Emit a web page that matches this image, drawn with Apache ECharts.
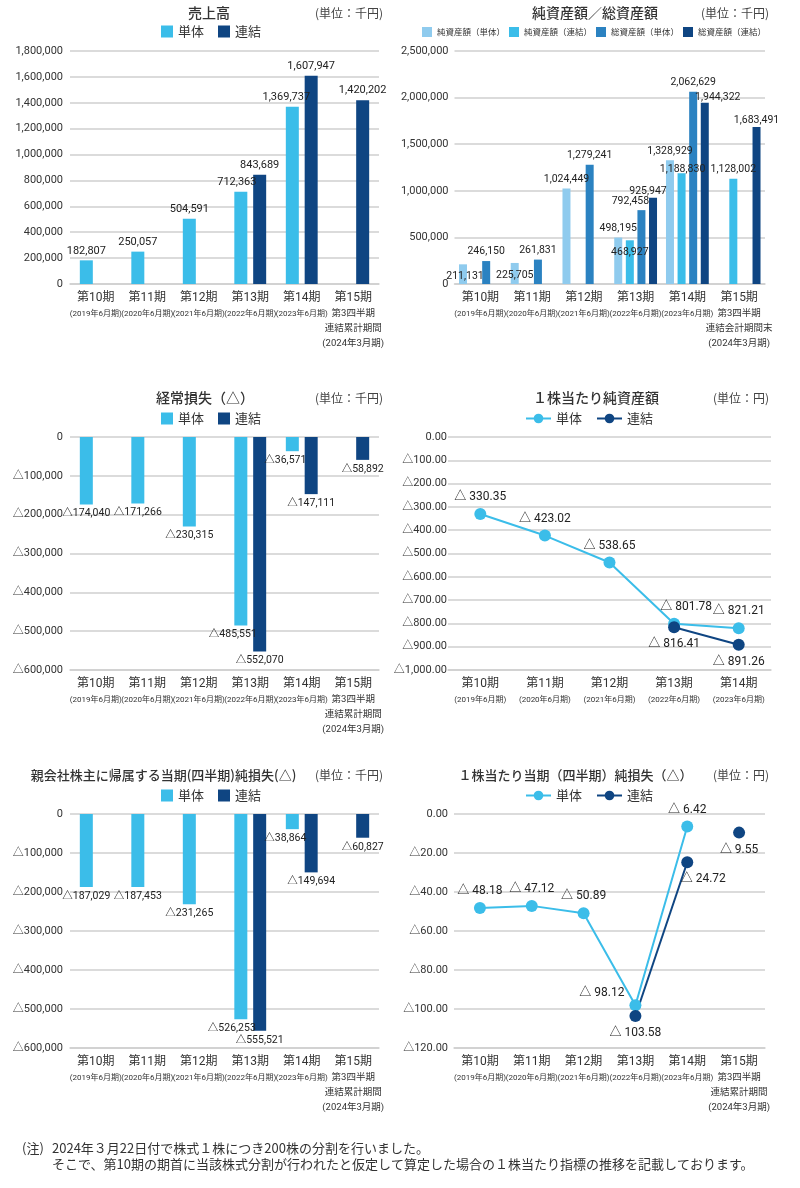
<!DOCTYPE html>
<html><head><meta charset="utf-8">
<script src="https://cdn.jsdelivr.net/npm/echarts@6/dist/echarts.min.js"></script>
<style>html,body{margin:0;padding:0;background:#fff}#c{width:800px;height:1188px}</style>
</head><body><div id="c"></div><script>
// ---- categories ----
const periods = ['第10期','第11期','第12期','第13期','第14期','第15期'];
const periodYears = ['(2019年6月期)','(2020年6月期)','(2021年6月期)','(2022年6月期)','(2023年6月期)','(2024年3月期)'];
const q3Cumulative = ['第3四半期','連結累計期間'];
const q3PeriodEnd = ['第3四半期','連結会計期間末'];

// ---- series values (千円 / 円) ----
const salesSingle = [182807, 250057, 504591, 712363, 1369737, null];
const salesConsol = [null, null, null, 843689, 1607947, 1420202];

const netAssetsSingle   = [211131, 225705, 1024449, 498195, 1328929, null];
const netAssetsConsol   = [null, null, null, 468927, 1188830, 1128002];
const totalAssetsSingle = [246150, 261831, 1279241, 792458, 2062629, null];
const totalAssetsConsol = [null, null, null, 925947, 1944322, 1683491];

const ordinaryLossSingle = [-174040, -171266, -230315, -485551, -36571, null];
const ordinaryLossConsol = [null, null, null, -552070, -147111, -58892];

const bpsSingle = [-330.35, -423.02, -538.65, -801.78, -821.21];
const bpsConsol = [null, null, null, -816.41, -891.26];

const netLossSingle = [-187029, -187453, -231265, -526253, -38864, null];
const netLossConsol = [null, null, null, -555521, -149694, -60827];

const epsSingle = [-48.18, -47.12, -50.89, -98.12, -6.42, null];
const epsConsol = [null, null, null, -103.58, -24.72, -9.55];

// ---- axis ranges / ticks ----
const axisSales  = {min: 0, max: 1800000, interval: 200000};
const axisAssets = {min: 0, max: 2500000, interval: 500000};
const axisLoss   = {min: -600000, max: 0, interval: 100000};
const axisBps    = {min: -1000, max: 0, interval: 100};
const axisEps    = {min: -120, max: 0, interval: 20};

// ---- build category label strings ----
const catsCum = periods.map((p,i)=> i<5 ? p+'\n'+periodYears[i] : [p].concat(q3Cumulative, [periodYears[i]]).join('\n'));
const catsEnd = periods.map((p,i)=> i<5 ? p+'\n'+periodYears[i] : [p].concat(q3PeriodEnd, [periodYears[i]]).join('\n'));
const cats5 = periods.slice(0,5).map((p,i)=> p+'\n'+periodYears[i]);

// ---- styles ----
const numFont = "Roboto,'Liberation Sans','Noto Sans CJK JP',sans-serif";
const jpFont = "'Noto Sans CJK JP',sans-serif";
const txt = '#333';
const cLight = '#3bbde9', cNavy = '#0f4582', cPale = '#8fcbee', cMid = '#2b82c1';
const gridColor = '#cfcfcf';

const fmtInt = v => Math.abs(v).toLocaleString('en-US');
const fmtLossInt = v => v === 0 ? '0' : '△' + fmtInt(v);
const fmtDec = v => Math.abs(v).toLocaleString('en-US',{minimumFractionDigits:2, maximumFractionDigits:2});
const fmtLossDec = v => v === 0 ? '0.00' : '△' + fmtDec(v);
const fmtLossDecLabel = v => '△ ' + fmtDec(v);

const names = {
  p1s:'単体', p1c:'連結',
  p2a:'純資産額（単体）', p2b:'純資産額（連結）', p2c:'総資産額（単体）', p2d:'総資産額（連結）',
  p3s:'単体', p3c:'連結', p4s:'単体', p4c:'連結', p5s:'単体', p5c:'連結', p6s:'単体', p6c:'連結'
};

// label tweaks (placement only)
const labelTweaks = {
  salesSingle: {3:{offset:[-4,0]}, 4:{offset:[-6,0]}},
  netAssetsSingle: {0:{offset:[2,21]}, 1:{offset:[0,22]}},
  netAssetsConsol: {3:{offset:[0,21]}, 4:{offset:[1,5]}},
  totalAssetsSingle: {3:{offset:[-11,0]}},
  totalAssetsConsol: {3:{offset:[-5,3]}, 4:{offset:[13,4]}, 5:{offset:[0,3]}},
  ordinaryLossSingle: {3:{offset:[-8,0]}, 4:{offset:[-7,0]}},
  netLossSingle: {3:{offset:[-9,0]}, 4:{offset:[-7,0]}},
  bpsSingle: {3:{offset:[12,0]}},
  epsSingle: {3:{position:'left', offset:[0,-12]}},
  epsConsol: {4:{offset:[16,0]}}
};
function withTweaks(data, tw){
  return data.map((v,i)=> (tw && tw[i] && v!=null) ? {value:v, label:tw[i]} : v);
}

const grids = [
  {left:70, right:421, top:51, bottom:904},
  {left:454.5, right:35, top:51, bottom:904},
  {left:70, right:421, top:437, bottom:518},
  {left:448, right:29, top:437, bottom:518},
  {left:70, right:421, top:814, bottom:140},
  {left:454, right:35, top:814, bottom:140}
];

function catFormatter(v, idx){
  return v.split('\n').map((s,i)=> (i===0?'{a|':(idx===5?'{c|':'{b|'))+s+'}').join('\n');
}
function xAxis(gi, data){
  return {type:'category', gridIndex:gi, data:data, boundaryGap:true,
    axisTick:{show:false},
    axisLine:{onZero:false, lineStyle:{color:gridColor, width:1.5}},
    axisLabel:{interval:0, margin:6, formatter:catFormatter,
      rich:{a:{fontFamily:numFont, fontSize:12, lineHeight:16, color:txt},
            b:{fontFamily:numFont, fontSize:8, lineHeight:15, color:txt},
            c:{fontFamily:numFont, fontSize:9.5, lineHeight:15, color:txt}}}};
}
function yAxis(gi, rng, fmt, margin){
  return {type:'value', gridIndex:gi, min:rng.min, max:rng.max, interval:rng.interval,
    axisLine:{show:false}, axisTick:{show:false},
    axisLabel:{formatter:fmt, fontFamily:numFont, fontSize:11, color:txt, margin:margin},
    splitLine:{lineStyle:{color:gridColor, width:1.5}}};
}
function bar(name, gi, data, color, width, gap, pos, fmt, tw, fs){
  return {type:'bar', name:name, xAxisIndex:gi, yAxisIndex:gi, data:withTweaks(data, tw),
    barWidth:width, barGap:gap, itemStyle:{color:color},
    label:{show:true, position:pos, distance:4, fontFamily:numFont, fontSize:fs||11, color:'#222',
      formatter:p=>fmt(p.value)}};
}
function line(name, gi, data, color, pos, tw){
  return {type:'line', name:name, xAxisIndex:gi, yAxisIndex:gi, data:withTweaks(data, tw),
    symbol:'circle', symbolSize:12, connectNulls:false,
    lineStyle:{color:color, width:2}, itemStyle:{color:color},
    label:{show:true, position:pos, distance:5, fontFamily:numFont, fontSize:12, color:'#222',
      formatter:p=>fmtLossDecLabel(p.value)}};
}

const epsConsolAnnual = epsConsol.map((v,i)=> i<5 ? v : null);
const epsConsolQ3 = epsConsol.map((v,i)=> i===5 ? v : null);

const legendBase = {formatter:n=>names[n], icon:'rect', itemWidth:12, itemHeight:12, itemGap:14,
  selectedMode:false, textStyle:{fontFamily:jpFont, fontSize:13, color:txt}, padding:0};

const titles = [
  {text:'売上高', x:209, y:13, size:14},
  {text:'純資産額／総資産額', x:595, y:13, size:14},
  {text:'経常損失（△）', x:205, y:398, size:14},
  {text:'１株当たり純資産額', x:596, y:398, size:14},
  {text:'親会社株主に帰属する当期(四半期)純損失(△)', x:163.5, y:775, size:13},
  {text:'１株当たり当期（四半期）純損失（△）', x:575.5, y:775, size:13}
];
const units = [
  {text:'(単位：千円)', x:383, y:13}, {text:'(単位：千円)', x:769, y:13},
  {text:'(単位：千円)', x:383, y:398}, {text:'(単位：円)', x:769, y:398},
  {text:'(単位：千円)', x:383, y:775}, {text:'(単位：円)', x:769, y:775}
];
const notes = [
  {text:'(注)', x:22, y:1148},
  {text:'2024年３月22日付で株式１株につき200株の分割を行いました。', x:52, y:1148},
  {text:'そこで、第10期の期首に当該株式分割が行われたと仮定して算定した場合の１株当たり指標の推移を記載しております。', x:52, y:1164}
];

const graphic = [].concat(
  titles.map(t=>({type:'text', x:t.x, y:t.y, style:{text:t.text, fill:'#333', font:`500 ${t.size}px ${jpFont}`, align:'center', verticalAlign:'middle'}})),
  units.map(t=>({type:'text', x:t.x, y:t.y, style:{text:t.text, fill:'#444', font:`12px ${jpFont}`, align:'right', verticalAlign:'middle'}})),
  notes.map(t=>({type:'text', x:t.x, y:t.y, style:{text:t.text, fill:'#333', font:`13px ${jpFont}`, align:'left', verticalAlign:'middle'}}))
);

const option = {
  animation:false,
  backgroundColor:'#fff',
  graphic: graphic,
  grid: grids,
  legend: [
    Object.assign({}, legendBase, {data:['p1s','p1c'], left:161, top:25}),
    Object.assign({}, legendBase, {data:['p2a','p2b','p2c','p2d'], left:422, top:27, itemWidth:10, itemHeight:10, itemGap:4,
      textStyle:{fontFamily:jpFont, fontSize:8.5, color:txt}}),
    Object.assign({}, legendBase, {data:['p3s','p3c'], left:161, top:412}),
    Object.assign({}, legendBase, {data:['p4s','p4c'], left:525, top:412, icon:null, itemWidth:25, itemHeight:12}),
    Object.assign({}, legendBase, {data:['p5s','p5c'], left:161, top:789}),
    Object.assign({}, legendBase, {data:['p6s','p6c'], left:525, top:789, icon:null, itemWidth:25, itemHeight:12})
  ],
  xAxis: [xAxis(0,catsCum), xAxis(1,catsEnd), xAxis(2,catsCum), xAxis(3,cats5), xAxis(4,catsCum), xAxis(5,catsCum)],
  yAxis: [
    yAxis(0, axisSales, v=>fmtInt(v), 7),
    yAxis(1, axisAssets, v=>fmtInt(v), 6),
    yAxis(2, axisLoss, fmtLossInt, 7),
    yAxis(3, axisBps, fmtLossDec, 1),
    yAxis(4, axisLoss, fmtLossInt, 7),
    yAxis(5, axisEps, fmtLossDec, 6)
  ],
  series: [
    bar('p1s', 0, salesSingle, cLight, 13, '45%', 'top', fmtInt, labelTweaks.salesSingle),
    bar('p1c', 0, salesConsol, cNavy, 13, '45%', 'top', fmtInt),
    bar('p2a', 1, netAssetsSingle, cPale, 8, '45%', 'top', fmtInt, labelTweaks.netAssetsSingle, 10.5),
    bar('p2b', 1, netAssetsConsol, cLight, 8, '45%', 'top', fmtInt, labelTweaks.netAssetsConsol, 10.5),
    bar('p2c', 1, totalAssetsSingle, cMid, 8, '45%', 'top', fmtInt, labelTweaks.totalAssetsSingle, 10.5),
    bar('p2d', 1, totalAssetsConsol, cNavy, 8, '45%', 'top', fmtInt, labelTweaks.totalAssetsConsol, 10.5),
    bar('p3s', 2, ordinaryLossSingle, cLight, 13, '45%', 'bottom', fmtLossInt, labelTweaks.ordinaryLossSingle, 10.5),
    bar('p3c', 2, ordinaryLossConsol, cNavy, 13, '45%', 'bottom', fmtLossInt, null, 10.5),
    line('p4s', 3, bpsSingle, cLight, 'top', labelTweaks.bpsSingle),
    line('p4c', 3, bpsConsol, cNavy, 'bottom'),
    bar('p5s', 4, netLossSingle, cLight, 13, '45%', 'bottom', fmtLossInt, labelTweaks.netLossSingle, 10.5),
    bar('p5c', 4, netLossConsol, cNavy, 13, '45%', 'bottom', fmtLossInt, null, 10.5),
    line('p6s', 5, epsSingle, cLight, 'top', labelTweaks.epsSingle),
    line('p6c', 5, epsConsolAnnual, cNavy, 'bottom', labelTweaks.epsConsol),
    line('p6c', 5, epsConsolQ3, cNavy, 'bottom')
  ]
};
const chart = echarts.init(document.getElementById('c'), null, {renderer:'canvas'});
chart.setOption(option);
</script></body></html>
